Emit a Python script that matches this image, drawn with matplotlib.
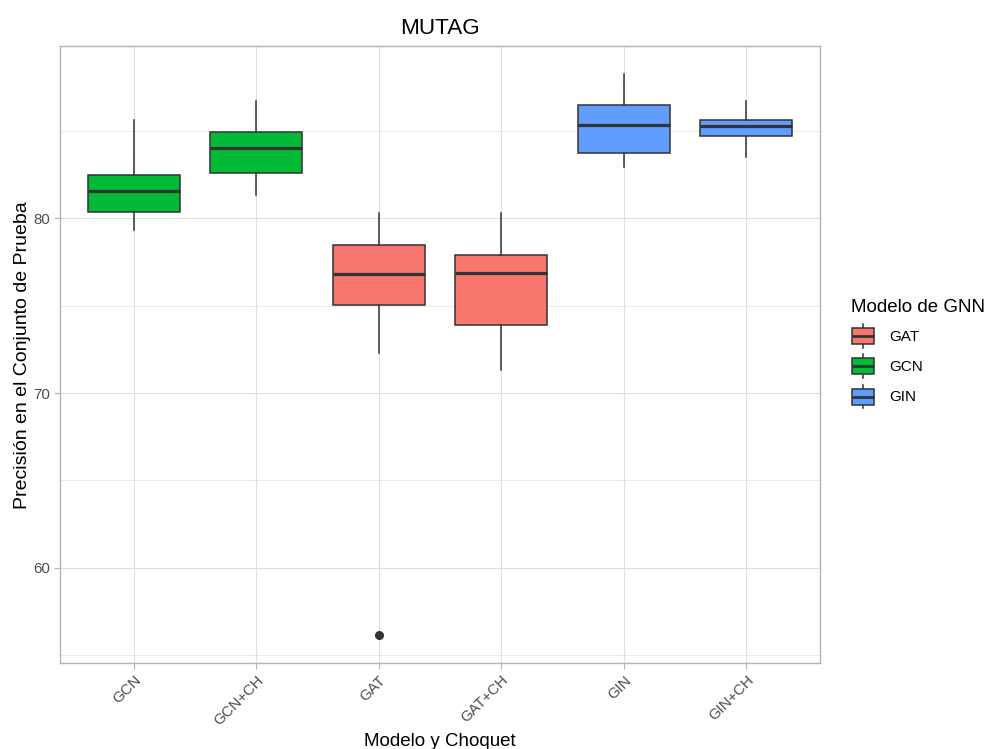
import matplotlib
matplotlib.use("Agg")
import matplotlib.pyplot as plt
from matplotlib.patches import Rectangle, Patch
from matplotlib.lines import Line2D
from matplotlib.legend_handler import HandlerBase

plt.rcParams['font.family'] = ['Liberation Sans', 'DejaVu Sans']

# Test-set accuracy summaries per model / Choquet variant
categories = ["GCN", "GCN+CH", "GAT", "GAT+CH", "GIN", "GIN+CH"]
model_of = ["GCN", "GCN", "GAT", "GAT", "GIN", "GIN"]
whisker_low = [79.31, 81.34, 72.31, 71.34, 82.94, 83.53]
q1 = [80.36, 82.59, 75.06, 73.92, 83.74, 84.69]
median = [81.58, 84.01, 76.81, 76.85, 85.36, 85.28]
q3 = [82.48, 84.94, 78.47, 77.90, 86.47, 85.63]
whisker_high = [85.63, 86.72, 80.29, 80.30, 88.26, 86.72]
outliers = [[], [], [56.14], [], [], []]

legend_models = ["GAT", "GCN", "GIN"]
palette = {"GAT": "#F8766D", "GCN": "#00BA38", "GIN": "#619CFF"}

edge = "#333333"
W, H = 988, 749
fig = plt.figure(figsize=(W / 100, H / 100), dpi=100)
ax = fig.add_axes([60 / W, 1 - 663.3 / H, 760 / W, (663.3 - 46) / H])

stats = []
for i, c in enumerate(categories):
    stats.append(dict(label=c, whislo=whisker_low[i], q1=q1[i], med=median[i],
                      q3=q3[i], whishi=whisker_high[i], fliers=outliers[i]))

positions = list(range(1, len(categories) + 1))
bp = ax.bxp(stats, positions=positions, widths=0.75, patch_artist=True,
            showcaps=False, zorder=3,
            boxprops=dict(edgecolor=edge, linewidth=1.1),
            medianprops=dict(color=edge, linewidth=2.3, solid_capstyle="butt"),
            whiskerprops=dict(color=edge, linewidth=1.1),
            flierprops=dict(marker="o", markerfacecolor=edge, markeredgecolor=edge,
                            markersize=5.5))
for patch, m in zip(bp["boxes"], model_of):
    patch.set_facecolor(palette[m])

lo = min(min(whisker_low), min(min(o) for o in outliers if o))
hi = max(whisker_high)
pad = (hi - lo) * 0.05
ax.set_ylim(lo - pad, hi + pad)
ax.set_xlim(0.4, len(categories) + 0.6)

ax.set_yticks([60, 70, 80])
ax.set_yticks([55, 65, 75, 85], minor=True)
ax.set_xticks(positions)
ax.set_xticklabels(categories, rotation=45, ha="right", va="top",
                   rotation_mode="anchor")

grid = "#DEDEDE"
ax.grid(True, which="major", color=grid, linewidth=0.8, zorder=0)
ax.grid(True, which="minor", axis="y", color=grid, linewidth=0.45, zorder=0)
ax.set_axisbelow(True)
for s in ax.spines.values():
    s.set_color("#B3B3B3")
    s.set_linewidth(1.0)
ax.tick_params(axis="both", which="major", color="#B3B3B3", length=4, width=0.8,
               labelcolor="#4D4D4D", labelsize=10.8)
ax.tick_params(axis="both", which="minor", length=0)
ax.tick_params(axis="y", pad=3)
ax.tick_params(axis="x", pad=3)

ax.set_title("MUTAG", fontsize=16.2, pad=9)
ax.set_xlabel("Modelo y Choquet", fontsize=13.5, labelpad=4)
ax.set_ylabel("Precisión en el Conjunto de Prueba", fontsize=14, labelpad=2)


class BoxKeyHandler(HandlerBase):
    def create_artists(self, legend, orig_handle, xdescent, ydescent,
                       width, height, fontsize, trans):
        fc = orig_handle.get_facecolor()
        x0, y0 = -xdescent, -ydescent
        cx = x0 + width / 2
        cy = y0 + height / 2
        bw = width * 0.9
        bh = height * 0.68
        by = cy - bh / 2
        rect = Rectangle((cx - bw / 2, by), bw, bh, facecolor=fc,
                         edgecolor=edge, linewidth=1.1, transform=trans)
        med = Line2D([cx - bw / 2, cx + bw / 2], [cy, cy],
                     color=edge, linewidth=2.0, transform=trans,
                     solid_capstyle="butt")
        w1 = Line2D([cx, cx], [y0, by], color=edge,
                    linewidth=1.1, transform=trans)
        w2 = Line2D([cx, cx], [by + bh, y0 + height], color=edge,
                    linewidth=1.1, transform=trans)
        return [w1, w2, rect, med]


handles = [Patch(facecolor=palette[m], label=m) for m in legend_models]
leg = fig.legend(handles=handles, title="Modelo de GNN", loc="upper left",
                 bbox_to_anchor=(837 / W, 1 - 285 / H), frameon=False,
                 handler_map={Patch: BoxKeyHandler()},
                 handlelength=1.6, handleheight=2.0, handletextpad=0.9,
                 labelspacing=0.44, fontsize=11, title_fontsize=13.5,
                 alignment="left")
leg._legend_box.sep = 6

fig.savefig("out.png", dpi=100)
